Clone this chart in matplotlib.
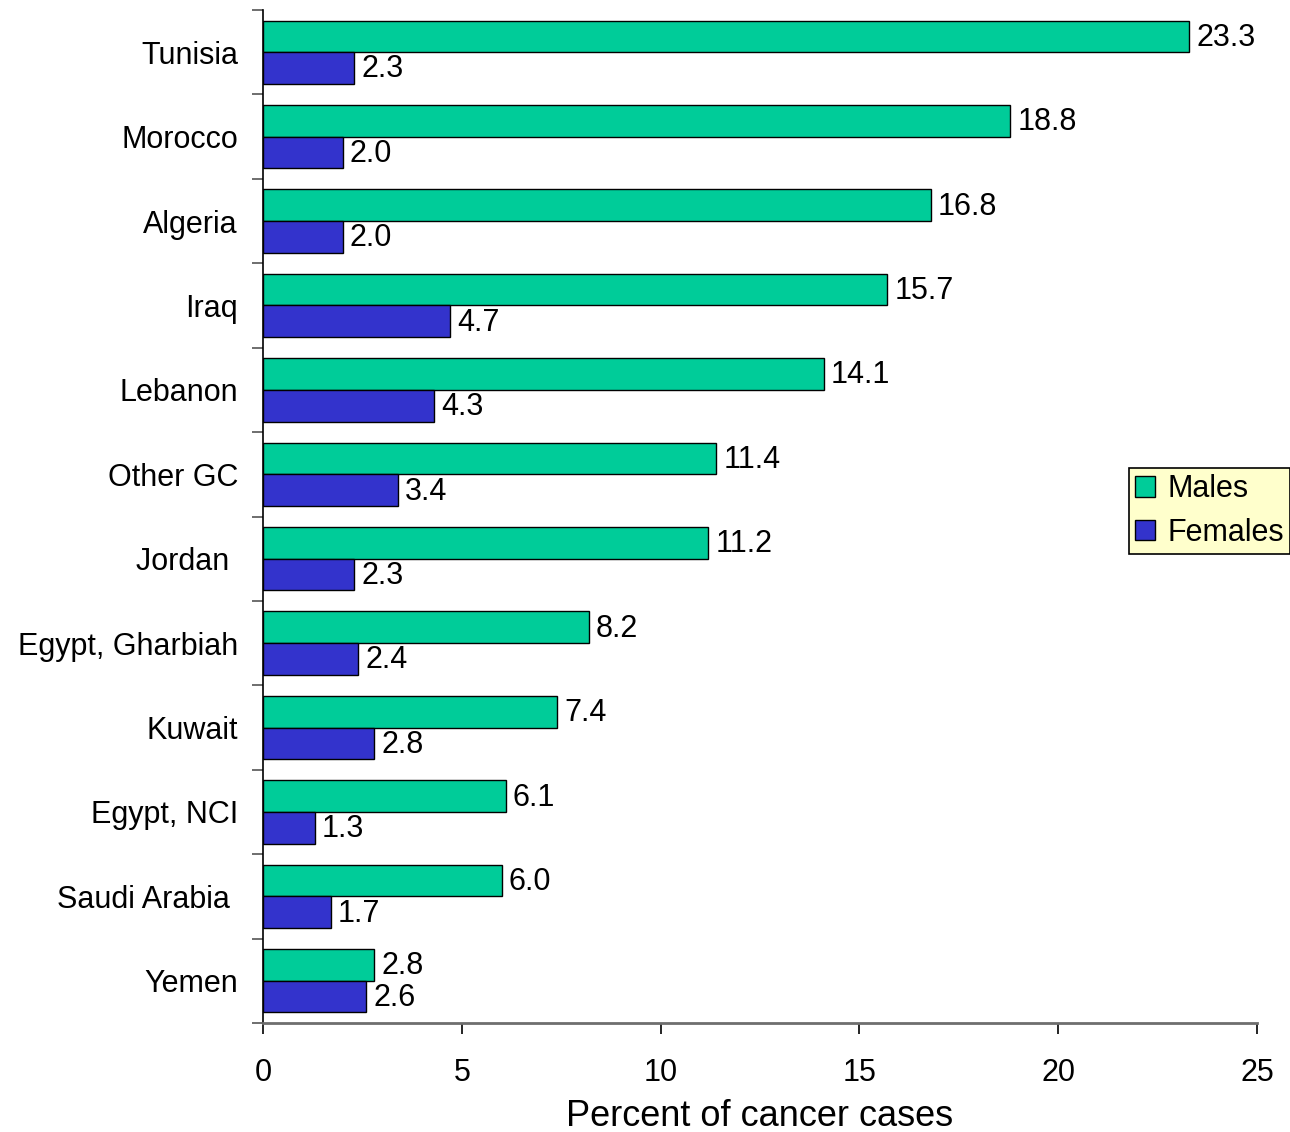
import matplotlib
matplotlib.use("Agg")
import matplotlib.pyplot as plt
import numpy as np

countries = ["Tunisia", "Morocco", "Algeria", "Iraq", "Lebanon", "Other GC", "Jordan ",
             "Egypt, Gharbiah", "Kuwait", "Egypt, NCI", "Saudi Arabia ", "Yemen"]
males = [23.3, 18.8, 16.8, 15.7, 14.1, 11.4, 11.2, 8.2, 7.4, 6.1, 6.0, 2.8]
females = [2.3, 2.0, 2.0, 4.7, 4.3, 3.4, 2.3, 2.4, 2.8, 1.3, 1.7, 2.6]
xticks = [0, 5, 10, 15, 20, 25]

plt.rcParams['font.family'] = ['Liberation Sans', 'DejaVu Sans']

fig = plt.figure(figsize=(12.9, 11.32), dpi=100)
ax = fig.add_axes([263/1290, 109/1132, (1257-263)/1290, (1023-10)/1132])

n = len(countries)
centers = np.arange(n) + 0.5
h = 0.375
ym = centers - h/2
yf = centers + h/2
bm = ax.barh(ym, males, height=h, color='#00CC99', edgecolor='black', linewidth=1, label='Males')
bf = ax.barh(yf, females, height=h, color='#3333CC', edgecolor='black', linewidth=1, label='Females')

for y, v in zip(ym, males):
    ax.annotate(f"{v:.1f}", (v, y), xytext=(5, -1), textcoords='offset points',
                va='center', ha='left', fontsize=22)
for y, v in zip(yf, females):
    ax.annotate(f"{v:.1f}", (v, y), xytext=(5, -1), textcoords='offset points',
                va='center', ha='left', fontsize=22)

ax.set_xlim(0, 25)
ax.set_ylim(n, 0)
ax.set_xticks(xticks)
ax.set_xticklabels([str(t) for t in xticks], fontsize=22)
ax.tick_params(axis='x', length=8, width=1.2, color='black', pad=17)

ax.set_yticks(centers)
ax.set_yticklabels(countries, fontsize=22)
ax.set_yticks(np.arange(n + 1), minor=True)
ax.tick_params(axis='y', which='major', length=0, pad=18)
ax.tick_params(axis='y', which='minor', length=8, width=1.2, color='#555555')

for s in ['top', 'right']:
    ax.spines[s].set_visible(False)
ax.spines['left'].set_color('black')
ax.spines['left'].set_linewidth(1.2)
ax.spines['bottom'].set_color('#6e6e6e')
ax.spines['bottom'].set_linewidth(2)

ax.set_xlabel("Percent of cancer cases", fontsize=26, labelpad=8)

leg = fig.legend(handles=[bm, bf], labels=['Males', 'Females'], loc='upper left',
                 bbox_to_anchor=(1129/1290, 1 - 468/1132), fontsize=22,
                 frameon=True, fancybox=False, facecolor='#FFFFCC', edgecolor='black',
                 handlelength=0.65, handleheight=0.65, handletextpad=0.4,
                 borderpad=0.2, labelspacing=0.45, borderaxespad=0)
leg.get_frame().set_linewidth(1.2)
leg.get_frame().set_alpha(None)

fig.savefig("out.png", dpi=100)
